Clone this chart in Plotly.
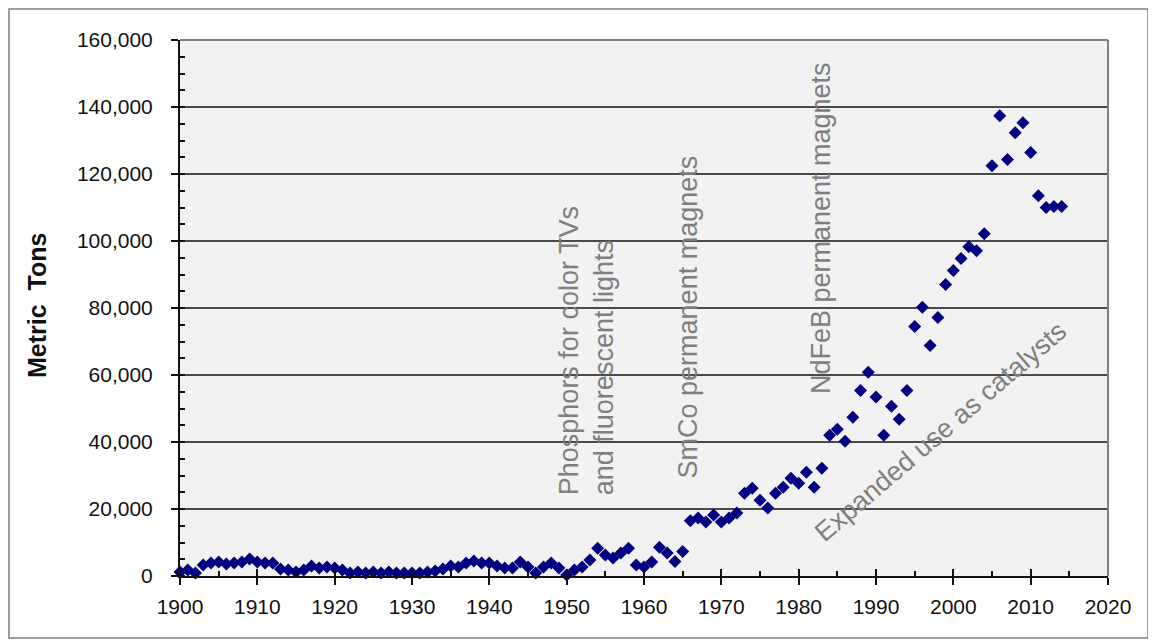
import plotly.graph_objects as go

years = list(range(1900, 2015))
tons = [
    1200, 1800, 900, 3300, 3900, 4200, 3600, 3900, 4200, 5100,      # 1900-1909
    4200, 3900, 3900, 2100, 1800, 1200, 1800, 3000, 2400, 2700,      # 1910-1919
    2400, 1800, 900, 1200, 900, 1200, 900, 1200, 900, 900,           # 1920-1929
    900, 900, 1200, 1500, 2100, 3000, 2700, 3900, 4500, 3900,        # 1930-1939
    3900, 3000, 2400, 2400, 4200, 2700, 900, 2700, 3900, 2400,       # 1940-1949
    300, 1800, 2700, 4800, 8300, 6300, 5400, 6900, 8300, 3300,       # 1950-1959
    2700, 4200, 8600, 6900, 4300, 7300, 16500, 17300, 16100, 18200,  # 1960-1969
    16100, 17300, 18800, 24700, 26200, 22600, 20300, 24700, 26500, 29200,  # 1970-1979
    27700, 31000, 26500, 32200, 42000, 43800, 40200, 47400, 55400, 60800,  # 1980-1989
    53400, 42000, 50700, 46800, 55400, 74500, 80200, 68800, 77200, 87000,  # 1990-1999
    91200, 94800, 98300, 97100, 102200, 122500, 137400, 124300, 132300, 135300,  # 2000-2009
    126400, 113500, 110000, 110300, 110300,                          # 2010-2014
]

notes = [
    "Phosphors for color TVs<br>and fluorescent lights",
    "SmCo permanent magnets",
    "NdFeB permanent magnets",
    "Expanded use as catalysts",
]
note_x = [1952.6, 1965.7, 1982.8, 1998.3]
note_y = [23600, 28400, 53800, 43000]

# page has an 8px body margin, so figure coords = page coords - 8
W, H = 1148, 636
L, R, T, B = 172, 48, 32, 68
pw, ph = W - L - R, H - T - B

fig = go.Figure()
fig.add_trace(go.Scatter(
    x=years, y=tons, mode="markers",
    marker=dict(symbol="diamond", size=10, color="#000080"),
    cliponaxis=False, showlegend=False, hoverinfo="x+y",
))

FONT = "Liberation Sans, Arial, sans-serif"
GRAY = "#7f7f7f"

fig.update_layout(
    width=W, height=H,
    margin=dict(l=L, r=R, t=T, b=B, autoexpand=False),
    paper_bgcolor="white", plot_bgcolor="#f2f2f2",
    font=dict(family=FONT, color="#111111"),
    showlegend=False,
    xaxis=dict(
        range=[1900, 2020], dtick=10, tick0=1900,
        showgrid=False, zeroline=False,
        showline=True, linecolor="#111111", linewidth=2,
        ticks="outside", ticklen=7, tickwidth=1.5, tickcolor="#111111",
        tickfont=dict(size=21, family=FONT, color="#111111"),
        ticklabelstandoff=4,
        minor=dict(dtick=5, tick0=1900, ticks="inside", ticklen=5,
                   tickwidth=1.5, tickcolor="#111111", showgrid=False),
    ),
    xaxis2=dict(
        range=[1900, 2020], dtick=10, tick0=1900, overlaying="x",
        side="bottom", showgrid=False, zeroline=False, showline=False,
        ticks="inside", ticklen=7, tickwidth=1.5, tickcolor="#111111",
        showticklabels=False,
    ),
    yaxis=dict(
        range=[0, 160000], dtick=20000, tick0=0, tickformat=",d",
        showgrid=True, gridcolor="#4a4a4a", gridwidth=1.5,
        zeroline=False,
        showline=True, linecolor="#111111", linewidth=2,
        ticks="outside", ticklen=7, tickwidth=1.5, tickcolor="#111111",
        tickfont=dict(size=21, family=FONT, color="#111111"),
        ticklabelstandoff=14,
        minor=dict(dtick=5000, tick0=0, ticks="inside", ticklen=5,
                   tickwidth=1.5, tickcolor="#111111", showgrid=False),
    ),
)

# invisible trace to keep xaxis2 (inner halves of major x ticks) alive
fig.add_trace(go.Scatter(x=[years[0]], y=[tons[0]], xaxis="x2", mode="markers",
                         marker=dict(opacity=0), showlegend=False, hoverinfo="skip"))

# plot area top/right border
fig.add_shape(type="line", xref="paper", yref="paper", x0=0, x1=1, y0=1, y1=1,
              line=dict(color=GRAY, width=2))
fig.add_shape(type="line", xref="paper", yref="paper", x0=1, x1=1, y0=0, y1=1,
              line=dict(color=GRAY, width=2))
# outer frame
fig.add_shape(type="rect", xref="paper", yref="paper",
              x0=(1 - L) / pw, x1=(1140 - L) / pw,
              y0=(H - B - 630) / ph, y1=(H - B - 1) / ph,
              line=dict(color=GRAY, width=1.5), layer="below")

# y title
fig.add_annotation(text="<b>Metric  Tons</b>", xref="paper", yref="paper",
                   x=(29 - L) / pw, y=(H - B - 298) / ph, textangle=-90,
                   showarrow=False, xanchor="center", yanchor="middle",
                   font=dict(size=25, family=FONT, color="#111111"))

# notes
for i, (txt, nx, ny) in enumerate(zip(notes, note_x, note_y)):
    if i < 3:
        fig.add_annotation(text=txt, x=nx, y=ny, xref="x", yref="y",
                           textangle=-90, showarrow=False, align="left",
                           xanchor="center", yanchor="bottom",
                           font=dict(size=27, family=FONT, color=GRAY))
    else:
        fig.add_annotation(text=txt, x=nx, y=ny, xref="x", yref="y",
                           textangle=-40.6, showarrow=False,
                           xanchor="center", yanchor="middle",
                           font=dict(size=27, family=FONT, color=GRAY))

fig.write_html("out.html")
